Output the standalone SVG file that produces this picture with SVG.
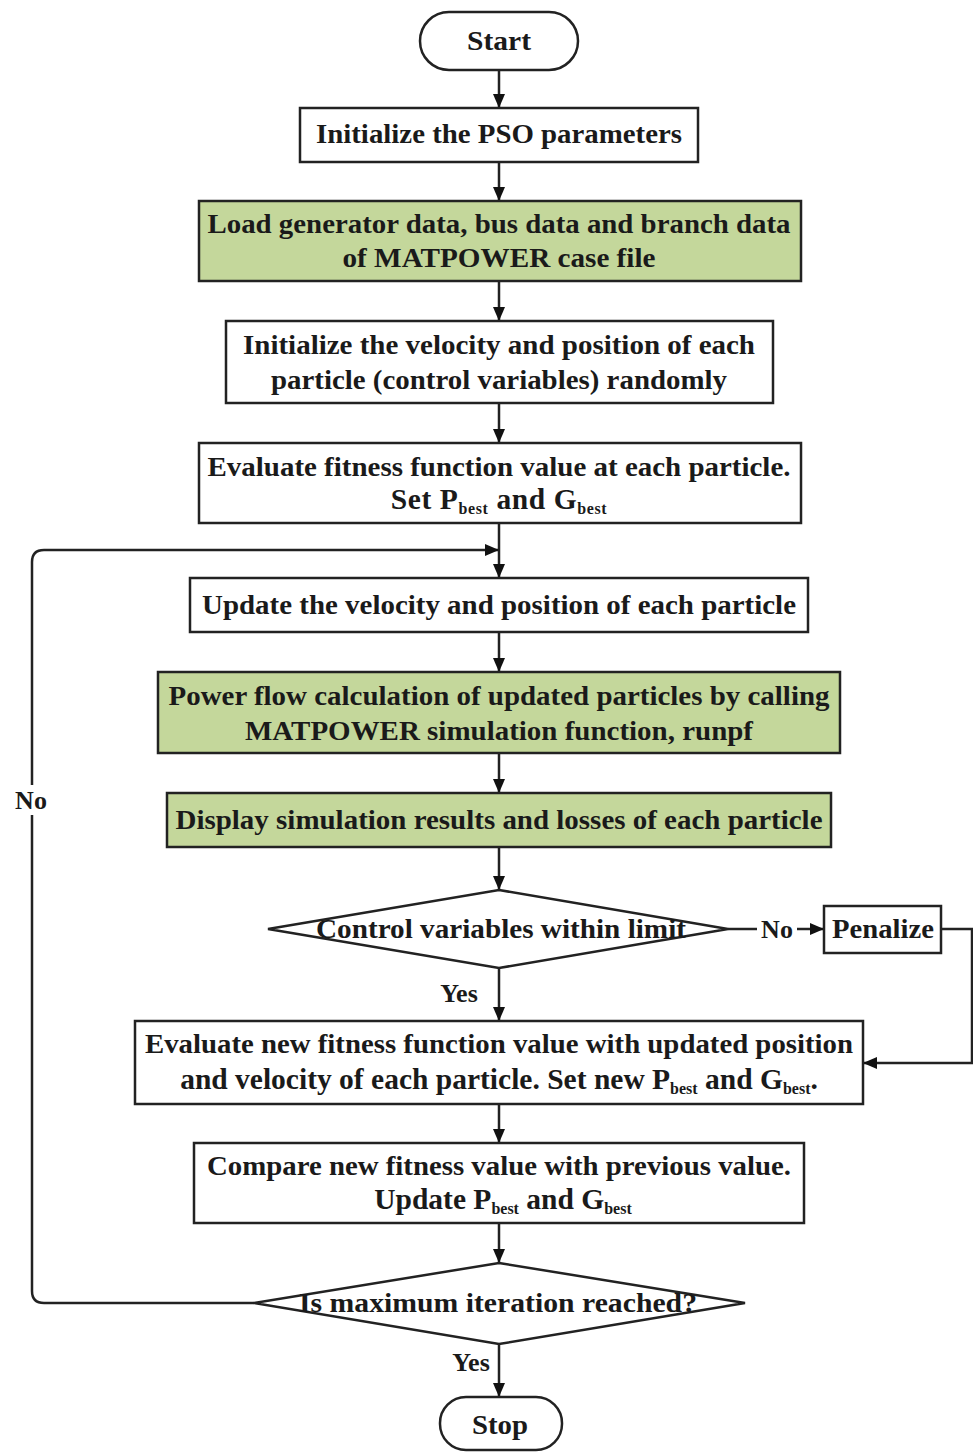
<svg xmlns="http://www.w3.org/2000/svg" width="973" height="1452" viewBox="0 0 973 1452">
<style>
  .box{fill:#ffffff;stroke:#222;stroke-width:2.5}
  .green{fill:#c4d79b;stroke:#222;stroke-width:2.5}
  .t{font-family:"Liberation Serif","Times New Roman",serif;font-weight:bold;font-size:28px;fill:#1a1a1a;text-anchor:middle}
  .ts{font-size:29.5px}
  .sub{font-size:16px}
  .c{fill:none;stroke:#222;stroke-width:2.5}
</style>
<defs>
  <marker id="ah" markerUnits="userSpaceOnUse" markerWidth="14" markerHeight="12" refX="13" refY="6" orient="auto">
    <path d="M0,0 L14,6 L0,12 Z" fill="#111"/>
  </marker>
</defs>
<rect width="973" height="1452" fill="#ffffff"/>

<g id="connectors">
  <path class="c" d="M499,70 V107" marker-end="url(#ah)"/>
  <path class="c" d="M499,162 V200" marker-end="url(#ah)"/>
  <path class="c" d="M499,281 V320" marker-end="url(#ah)"/>
  <path class="c" d="M499,403 V442" marker-end="url(#ah)"/>
  <path class="c" d="M499,523 V577" marker-end="url(#ah)"/>
  <path class="c" d="M499,632 V671" marker-end="url(#ah)"/>
  <path class="c" d="M499,753 V792" marker-end="url(#ah)"/>
  <path class="c" d="M499,847 V889" marker-end="url(#ah)"/>
  <path class="c" d="M499,968 V1020" marker-end="url(#ah)"/>
  <path class="c" d="M499,1104 V1142" marker-end="url(#ah)"/>
  <path class="c" d="M499,1223 V1262" marker-end="url(#ah)"/>
  <path class="c" d="M499,1344 V1396" marker-end="url(#ah)"/>
  <path class="c" d="M728,929 H757"/>
  <path class="c" d="M797,929 H823" marker-end="url(#ah)"/>
  <path class="c" d="M941,929 H972 V1063 H864" marker-end="url(#ah)"/>
  <path class="c" d="M254,1303 H44 Q32,1303 32,1291 V815"/>
  <path class="c" d="M32,785 V562 Q32,550 44,550 H498" marker-end="url(#ah)"/>
  <text class="t" x="31" y="809" style="font-size:26px">No</text>
  <text class="t" x="777" y="938" style="font-size:26px">No</text>
  <text class="t" x="459" y="1002" style="font-size:26px">Yes</text>
  <text class="t" x="471" y="1371" style="font-size:26px">Yes</text>
</g>

<g id="start">
  <rect x="420" y="12" width="158" height="58" rx="29" class="box"/>
  <text class="t" x="499" y="50" textLength="64" lengthAdjust="spacingAndGlyphs">Start</text>
</g>

<g id="init-pso">
  <rect x="300" y="108" width="398" height="54" class="box"/>
  <text class="t" x="499" y="143" textLength="366" lengthAdjust="spacingAndGlyphs">Initialize the PSO parameters</text>
</g>

<g id="load-data">
  <rect x="199" y="201" width="602" height="80" class="green"/>
  <text class="t" x="499" y="233" textLength="583" lengthAdjust="spacingAndGlyphs">Load generator data, bus data and branch data</text>
  <text class="t" x="499" y="267" textLength="313" lengthAdjust="spacingAndGlyphs">of MATPOWER case file</text>
</g>

<g id="init-particles">
  <rect x="226" y="321" width="547" height="82" class="box"/>
  <text class="t" x="499" y="354" textLength="512" lengthAdjust="spacingAndGlyphs">Initialize the velocity and position of each</text>
  <text class="t" x="499" y="389" textLength="456" lengthAdjust="spacingAndGlyphs">particle (control variables) randomly</text>
</g>

<g id="evaluate-fitness">
  <rect x="199" y="443" width="602" height="80" class="box"/>
  <text class="t" x="499" y="476" textLength="583" lengthAdjust="spacingAndGlyphs">Evaluate fitness function value at each particle.</text>
  <text class="t ts" x="499" y="509" letter-spacing="0.6">Set P<tspan class="sub" dy="5">best</tspan><tspan dy="-5"> and G</tspan><tspan class="sub" dy="5">best</tspan></text>
</g>

<g id="update-velocity">
  <rect x="190" y="578" width="618" height="54" class="box"/>
  <text class="t" x="499" y="614" textLength="594" lengthAdjust="spacingAndGlyphs">Update the velocity and position of each particle</text>
</g>

<g id="power-flow">
  <rect x="158" y="672" width="682" height="81" class="green"/>
  <text class="t" x="499" y="705" textLength="661" lengthAdjust="spacingAndGlyphs">Power flow calculation of updated particles by calling</text>
  <text class="t" x="499" y="740" textLength="508" lengthAdjust="spacingAndGlyphs">MATPOWER simulation function, runpf</text>
</g>

<g id="display-results">
  <rect x="167" y="793" width="664" height="54" class="green"/>
  <text class="t" x="499" y="829" textLength="647" lengthAdjust="spacingAndGlyphs">Display simulation results and losses of each particle</text>
</g>

<g id="limit-check">
  <polygon points="499,890 728,929 499,968 268,929" class="box"/>
  <text class="t" x="501" y="938" textLength="370" lengthAdjust="spacingAndGlyphs">Control variables within limit</text>
</g>

<g id="penalize">
  <rect x="824" y="906" width="117" height="47" class="box"/>
  <text class="t" x="883" y="938" textLength="102" lengthAdjust="spacingAndGlyphs">Penalize</text>
</g>

<g id="evaluate-new">
  <rect x="135" y="1021" width="728" height="83" class="box"/>
  <text class="t" x="499" y="1053" textLength="708" lengthAdjust="spacingAndGlyphs">Evaluate new fitness function value with updated position</text>
  <text class="t ts" x="499" y="1089">and velocity of each particle. Set new P<tspan class="sub" dy="5">best</tspan><tspan dy="-5"> and G</tspan><tspan class="sub" dy="5">best</tspan><tspan dy="-5">.</tspan></text>
</g>

<g id="compare">
  <rect x="194" y="1143" width="610" height="80" class="box"/>
  <text class="t" x="499" y="1175" textLength="584" lengthAdjust="spacingAndGlyphs">Compare new fitness value with previous value.</text>
  <text class="t ts" x="503" y="1209">Update P<tspan class="sub" dy="5">best</tspan><tspan dy="-5"> and G</tspan><tspan class="sub" dy="5">best</tspan></text>
</g>

<g id="max-iter">
  <polygon points="499,1263 745,1303 499,1344 254,1303" class="box"/>
  <text class="t" x="498" y="1312" textLength="398" lengthAdjust="spacingAndGlyphs">Is maximum iteration reached?</text>
</g>

<g id="stop">
  <rect x="440" y="1397" width="122" height="53" rx="26" class="box"/>
  <text class="t" x="500" y="1434" textLength="56" lengthAdjust="spacingAndGlyphs">Stop</text>
</g>
</svg>
